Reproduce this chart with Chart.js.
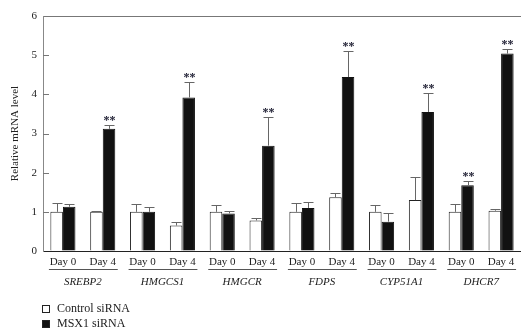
<!DOCTYPE html>
<html>
<head>
<meta charset="utf-8">
<script src="https://cdn.jsdelivr.net/npm/chart.js@4/dist/chart.umd.min.js"></script>
<style>
  html, body { margin: 0; background: #fff; }
</style>
</head>
<body>
<canvas id="chart" width="521" height="330"></canvas>
<script>
const genes      = ['SREBP2', 'HMGCS1', 'HMGCR', 'FDPS', 'CYP51A1', 'DHCR7'];
const days       = ['Day 0', 'Day 4', 'Day 0', 'Day 4', 'Day 0', 'Day 4', 'Day 0', 'Day 4', 'Day 0', 'Day 4', 'Day 0', 'Day 4'];
const control    = [1.00, 1.00, 1.00, 0.65, 1.00, 0.78, 1.00, 1.37, 1.00, 1.30, 1.00, 1.03];
const controlErr = [0.22, 0.02, 0.20, 0.08, 0.18, 0.07, 0.23, 0.10, 0.18, 0.58, 0.20, 0.05];
const msx1       = [1.13, 3.12, 1.00, 3.92, 0.96, 2.69, 1.10, 4.44, 0.75, 3.55, 1.68, 5.04];
const msx1Err    = [0.07, 0.10, 0.13, 0.40, 0.06, 0.73, 0.15, 0.67, 0.23, 0.48, 0.12, 0.13];
const sig        = ['', '**', '', '**', '', '**', '', '**', '', '**', '**', '**'];
const yTicks     = [0, 1, 2, 3, 4, 5, 6];

const serif = '"Liberation Serif", "DejaVu Serif", serif';
const errs  = [controlErr, msx1Err];

// error bars, stars, inner y ticks, gene names and the legend
const extras = {
  id: 'extras',
  afterDatasetsDraw(chart) {
    const { ctx, chartArea: area, scales: { x, y } } = chart;
    ctx.save();

    // upper error bars
    ctx.strokeStyle = '#666';
    ctx.lineWidth = 1;
    chart.data.datasets.forEach((ds, d) => {
      chart.getDatasetMeta(d).data.forEach((bar, i) => {
        const top = y.getPixelForValue(ds.data[i] + errs[d][i]);
        const bx = Math.round(bar.x) + 0.5;
        ctx.beginPath();
        ctx.moveTo(bx, bar.y);
        ctx.lineTo(bx, Math.round(top) + 0.5);
        ctx.moveTo(bx - 5, Math.round(top) + 0.5);
        ctx.lineTo(bx + 5, Math.round(top) + 0.5);
        ctx.stroke();
        if (d === 1 && sig[i]) {
          ctx.fillStyle = '#1c1c30';
          ctx.font = 'bold 12px ' + serif;
          ctx.textAlign = 'center';
          ctx.textBaseline = 'alphabetic';
          ctx.fillText(sig[i], bx, top - 1);
        }
      });
    });

    // tick marks pointing into the plot
    ctx.strokeStyle = '#777';
    yTicks.slice(1, -1).forEach(v => {
      const ty = Math.round(y.getPixelForValue(v)) + 0.5;
      ctx.beginPath();
      ctx.moveTo(area.left, ty);
      ctx.lineTo(area.left + 6, ty);
      ctx.stroke();
    });

    // gene group labels with underline
    ctx.fillStyle = '#222';
    ctx.font = 'italic 11px ' + serif;
    ctx.textAlign = 'center';
    ctx.textBaseline = 'middle';
    genes.forEach((g, k) => {
      const x0 = x.getPixelForValue(2 * k);
      const x1 = x.getPixelForValue(2 * k + 1);
      ctx.strokeStyle = '#555';
      ctx.beginPath();
      ctx.moveTo(x0 - 14, 269.5);
      ctx.lineTo(x1 + 15, 269.5);
      ctx.stroke();
      ctx.fillText(g, (x0 + x1) / 2, 282);
    });

    // legend
    ctx.font = '12px ' + serif;
    ctx.textAlign = 'left';
    chart.data.datasets.forEach((ds, d) => {
      const ly = 305 + d * 15;
      ctx.fillStyle = ds.backgroundColor;
      ctx.fillRect(42, ly, 7, 7);
      ctx.strokeStyle = '#222';
      ctx.strokeRect(42.5, ly + 0.5, 7, 7);
      ctx.fillStyle = '#222';
      ctx.fillText(ds.label, 57, ly + 4);
    });

    ctx.restore();
  }
};

new Chart(document.getElementById('chart'), {
  type: 'bar',
  data: {
    labels: days,
    datasets: [
      { label: 'Control siRNA', data: control, backgroundColor: '#ffffff', borderColor: '#222', borderWidth: 1 },
      { label: 'MSX1 siRNA',    data: msx1,    backgroundColor: '#111111', borderColor: '#111', borderWidth: 1 }
    ]
  },
  options: {
    responsive: false,
    animation: false,
    devicePixelRatio: 1,
    layout: { padding: { top: 16, right: 0, bottom: 0, left: 0 } },
    datasets: { bar: { categoryPercentage: 0.63, barPercentage: 1 } },
    plugins: { legend: { display: false }, tooltip: { enabled: false } },
    scales: {
      x: {
        grid: { display: false, drawTicks: false },
        border: { display: true, color: '#222', width: 1 },
        ticks: { color: '#222', font: { family: serif, size: 11 }, padding: 5, maxRotation: 0, autoSkip: false },
        afterFit: s => { s.height = 79; }
      },
      y: {
        min: 0, max: 6,
        afterBuildTicks: s => { s.ticks = yTicks.map(v => ({ value: v })); },
        grid: { drawTicks: false, color: c => (c.tick && c.tick.value === 6 ? '#777' : 'transparent') },
        border: { display: true, color: '#888', width: 1 },
        ticks: { color: '#222', font: { family: serif, size: 11 }, padding: 6 },
        title: { display: true, text: 'Relative mRNA level', color: '#222', font: { family: serif, size: 11 }, padding: { top: 9, bottom: 0 } },
        afterFit: s => { s.width = 43; }
      }
    }
  },
  plugins: [extras]
});
</script>
</body>
</html>
